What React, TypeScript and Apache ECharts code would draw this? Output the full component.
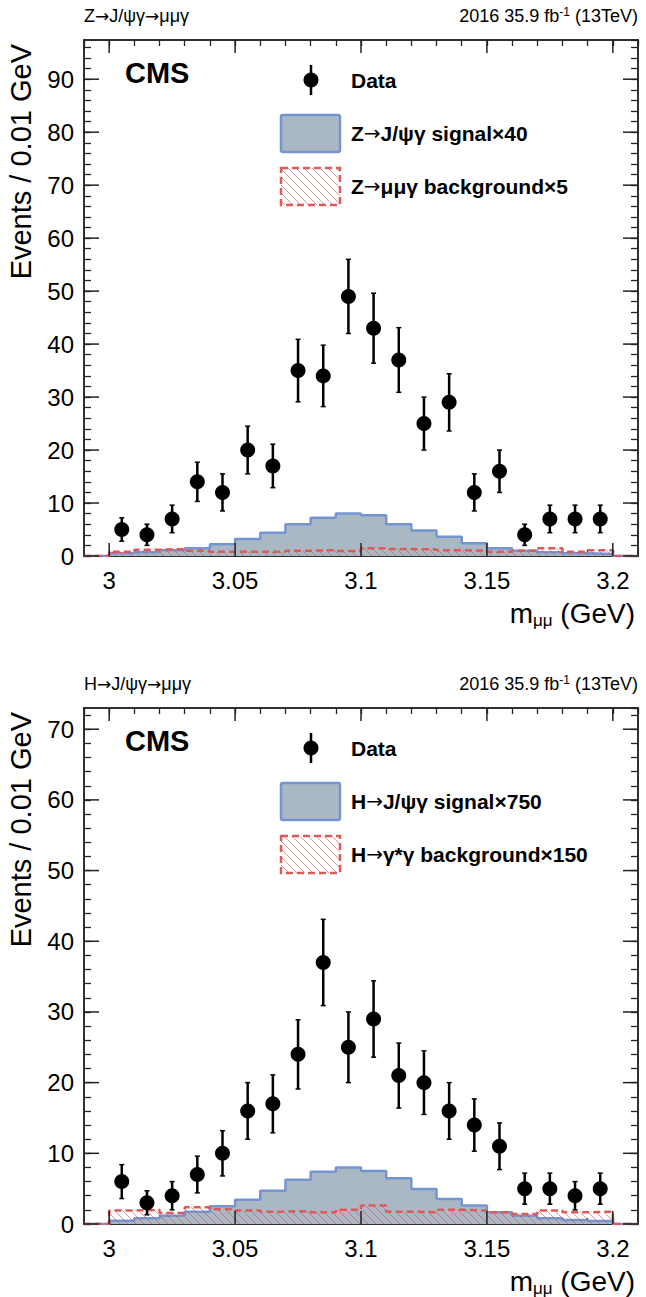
import React, { useEffect, useRef } from "react";
import * as echarts from "echarts";

// ---------- data ----------
const binEdges = [3.0, 3.01, 3.02, 3.03, 3.04, 3.05, 3.06, 3.07, 3.08, 3.09, 3.1, 3.11, 3.12, 3.13, 3.14, 3.15, 3.16, 3.17, 3.18, 3.19, 3.2];
const binCenters = [3.005, 3.015, 3.025, 3.035, 3.045, 3.055, 3.065, 3.075, 3.085, 3.095, 3.105, 3.115, 3.125, 3.135, 3.145, 3.155, 3.165, 3.175, 3.185, 3.195];
const xRange = [2.99, 3.21];
const xMajorTicks = [3.0, 3.05, 3.1, 3.15, 3.2];

// Z panel
const zData = [5, 4, 7, 14, 12, 20, 17, 35, 34, 49, 43, 37, 25, 29, 12, 16, 4, 7, 7, 7];
const zErr = [2.2, 2.0, 2.6, 3.7, 3.5, 4.5, 4.1, 5.9, 5.8, 7.0, 6.6, 6.1, 5.0, 5.4, 3.5, 4.0, 2.0, 2.6, 2.6, 2.6];
const zSignal = [0.5, 0.7, 1.1, 1.45, 2.2, 3.2, 4.4, 6.0, 7.2, 8.0, 7.7, 6.0, 4.8, 3.65, 2.4, 1.45, 1.0, 0.7, 0.5, 0.4];
const zBackground = [0.8, 1.2, 1.3, 1.0, 0.8, 0.8, 0.8, 1.0, 1.1, 0.95, 1.45, 1.3, 1.25, 1.1, 1.0, 0.8, 1.0, 1.45, 0.8, 1.1];
const zYMax = 97.4;
const zYMajorTicks = [0, 10, 20, 30, 40, 50, 60, 70, 80, 90];

// H panel
const hData = [6, 3, 4, 7, 10, 16, 17, 24, 37, 25, 29, 21, 20, 16, 14, 11, 5, 5, 4, 5];
const hErr = [2.4, 1.7, 2.0, 2.6, 3.2, 4.0, 4.1, 4.9, 6.1, 5.0, 5.4, 4.6, 4.5, 4.0, 3.7, 3.3, 2.2, 2.2, 2.0, 2.2];
const hSignal = [0.47, 0.8, 1.18, 1.75, 2.5, 3.44, 4.72, 6.27, 7.4, 8.0, 7.5, 6.46, 4.95, 3.54, 2.6, 1.65, 1.18, 0.8, 0.57, 0.42];
const hBackground = [1.9, 2.0, 1.55, 2.36, 2.1, 1.9, 1.75, 1.8, 1.65, 2.0, 2.6, 1.75, 1.65, 2.0, 1.9, 1.65, 1.4, 1.9, 1.65, 1.75];
const hYMax = 73;
const hYMajorTicks = [0, 10, 20, 30, 40, 50, 60, 70];

const AR = "{a|\u2192}";
const panels = [
  {
    title: "Z" + AR + "J/\u03c8\u03b3" + AR + "\u03bc\u03bc\u03b3",
    signalLabel: "Z" + AR + "J/\u03c8\u03b3 signal\u00d740",
    bkgLabel: "Z" + AR + "\u03bc\u03bc\u03b3 background\u00d75",
    data: zData, err: zErr, signal: zSignal, bkg: zBackground, yMax: zYMax, yMajor: zYMajorTicks,
  },
  {
    title: "H" + AR + "J/\u03c8\u03b3" + AR + "\u03bc\u03bc\u03b3",
    signalLabel: "H" + AR + "J/\u03c8\u03b3 signal\u00d7750",
    bkgLabel: "H" + AR + "\u03b3*\u03b3 background\u00d7150",
    data: hData, err: hErr, signal: hSignal, bkg: hBackground, yMax: hYMax, yMajor: hYMajorTicks,
  },
];

const FONT = "'Liberation Sans', Arial, Helvetica, sans-serif";
const ARROW_FONT = "'DejaVu Sans', sans-serif";
const FRAME = "#222";
const BLUE_LINE = "#7594d2";
const BLUE_FILL = "#aab8c3";
const RED = "#dc5a5a";

const GRID_LEFT = 84;
const GRID_WIDTH = 554;
const GRID_HEIGHT = 516;
const GRID_TOPS = [40, 708];

function stepData(values: number[]) {
  const pts: number[][] = [[xRange[0], 0]];
  for (let i = 0; i < values.length; i++) pts.push([binEdges[i], values[i]]);
  pts.push([binEdges[binEdges.length - 1], 0]);
  pts.push([xRange[1], 0]);
  return pts;
}

const hatchSvg =
  '<svg xmlns="http://www.w3.org/2000/svg" width="8" height="8">' +
  '<path d="M-1,-1 L9,9 M-1,7 L1,9 M7,-1 L9,1" stroke="rgba(205,80,85,0.6)" stroke-width="1"/></svg>';
const hatchUrl = "data:image/svg+xml;charset=utf-8," + encodeURIComponent(hatchSvg);
const hatchPattern: any = { image: hatchUrl, repeat: "repeat", imageWidth: 8, imageHeight: 8 };

export default function App() {
  const ref = useRef<HTMLDivElement>(null);
  useEffect(() => {
    document.body.style.margin = "0";
    const chart = echarts.init(ref.current!, null, { renderer: "svg" });

    const grids: any[] = [];
    const xAxes: any[] = [];
    const yAxes: any[] = [];
    const series: any[] = [];
    const graphics: any[] = [];

    panels.forEach((p, i) => {
      const top = GRID_TOPS[i];
      grids.push({
        left: GRID_LEFT, top, width: GRID_WIDTH, height: GRID_HEIGHT,
        show: true, borderColor: FRAME, borderWidth: 1.5, backgroundColor: "transparent",
      });
      const xBase = {
        gridIndex: i, type: "value", min: xRange[0], max: xRange[1], interval: 0.01,
        axisLine: { show: true, onZero: false, lineStyle: { color: FRAME, width: 1.5 } },
        axisTick: { show: true, inside: true, length: 6, lineStyle: { color: FRAME, width: 1.3 } },
        splitLine: { show: false },
      };
      xAxes.push({
        ...xBase, position: "bottom",
        axisLabel: {
          show: true, color: "#000", fontSize: 24, fontFamily: FONT, margin: 12,
          showMinLabel: false, showMaxLabel: false,
          formatter: (v: number) => {
            const r = Math.round(v * 100);
            if (r % 5 !== 0) return "";
            return String(r / 100);
          },
        },
      });
      xAxes.push({ ...xBase, position: "top", axisLabel: { show: false } });
      const yBase = {
        gridIndex: i, type: "value", min: 0, max: p.yMax, interval: 2,
        axisLine: { show: true, onZero: false, lineStyle: { color: FRAME, width: 1.5 } },
        axisTick: { show: true, inside: true, length: 7, lineStyle: { color: FRAME, width: 1.3 } },
        splitLine: { show: false },
      };
      yAxes.push({
        ...yBase, position: "left",
        axisLabel: {
          show: true, color: "#000", fontSize: 24, fontFamily: FONT, margin: 10,
          showMaxLabel: false,
          formatter: (v: number) => (Math.round(v) % 10 === 0 && Math.abs(v - Math.round(v)) < 1e-6 ? String(Math.round(v)) : ""),
        },
      });
      yAxes.push({ ...yBase, position: "right", axisLabel: { show: false } });

      const xi = 2 * i;
      const yi = 2 * i;

      series.push({
        type: "line", xAxisIndex: xi, yAxisIndex: yi, step: "end", symbol: "none", silent: true,
        data: stepData(p.signal),
        lineStyle: { color: BLUE_LINE, width: 2.5 },
        areaStyle: { color: BLUE_FILL, opacity: 1 },
        z: 2,
      });
      series.push({
        type: "line", xAxisIndex: xi, yAxisIndex: yi, step: "end", symbol: "none", silent: true,
        data: stepData(p.bkg),
        lineStyle: { opacity: 0, width: 0 },
        areaStyle: { color: hatchPattern, opacity: 1 },
        z: 3,
      });
      series.push({
        type: "line", xAxisIndex: xi, yAxisIndex: yi, step: "end", symbol: "none", silent: true,
        data: stepData(p.bkg),
        lineStyle: { color: RED, width: 2.5, type: [7, 4] },
        z: 4,
      });
      // error bars
      series.push({
        type: "custom", xAxisIndex: xi, yAxisIndex: yi, silent: true, z: 5,
        data: binCenters.map((x, k) => [x, p.data[k], p.err[k]]),
        renderItem: (_params: any, api: any) => {
          const x = api.value(0), y = api.value(1), e = api.value(2);
          const t = api.coord([x, y + e]);
          const b = api.coord([x, y - e]);
          const st = { stroke: "#000", lineWidth: 2.5 };
          return {
            type: "group",
            children: [
              { type: "line", shape: { x1: t[0], y1: t[1], x2: b[0], y2: b[1] }, style: st },
              { type: "line", shape: { x1: t[0] - 2.5, y1: t[1], x2: t[0] + 2.5, y2: t[1] }, style: { stroke: "#000", lineWidth: 1.5 } },
              { type: "line", shape: { x1: b[0] - 2.5, y1: b[1], x2: b[0] + 2.5, y2: b[1] }, style: { stroke: "#000", lineWidth: 1.5 } },
            ],
          };
        },
      });
      series.push({
        type: "scatter", xAxisIndex: xi, yAxisIndex: yi, silent: true, z: 6,
        symbol: "circle", symbolSize: 15,
        itemStyle: { color: "#000", opacity: 1 },
        data: binCenters.map((x, k) => [x, p.data[k]]),
      });
      // major x ticks (bottom and top)
      series.push({
        type: "custom", xAxisIndex: xi, yAxisIndex: yi, silent: true, z: 7,
        data: xMajorTicks.map((v) => [v, 0]),
        renderItem: (_params: any, api: any) => {
          const x = api.value(0);
          const b = api.coord([x, 0]);
          const t = api.coord([x, p.yMax]);
          const st = { stroke: FRAME, lineWidth: 1.5 };
          return {
            type: "group",
            children: [
              { type: "line", shape: { x1: b[0], y1: b[1], x2: b[0], y2: b[1] - 13 }, style: st },
              { type: "line", shape: { x1: t[0], y1: t[1], x2: t[0], y2: t[1] + 13 }, style: st },
            ],
          };
        },
      });
      // major y ticks (left and right)
      series.push({
        type: "custom", xAxisIndex: xi, yAxisIndex: yi, silent: true, z: 7,
        data: p.yMajor.map((v) => [xRange[0], v]),
        renderItem: (_params: any, api: any) => {
          const y = api.value(1);
          const l = api.coord([xRange[0], y]);
          const r = api.coord([xRange[1], y]);
          const st = { stroke: FRAME, lineWidth: 1.5 };
          return {
            type: "group",
            children: [
              { type: "line", shape: { x1: l[0], y1: l[1], x2: l[0] + 15, y2: l[1] }, style: st },
              { type: "line", shape: { x1: r[0], y1: r[1], x2: r[0] - 15, y2: r[1] }, style: st },
            ],
          };
        },
      });

      // ---------- texts & legend ----------
      const off = top - GRID_TOPS[0];
      const arrowRich = (size: number, bold: boolean) => ({
        a: { fontSize: size, fontFamily: ARROW_FONT, fontWeight: bold ? "bold" : "normal", fill: "#000" },
      });
      graphics.push({
        type: "text", x: 84, y: 16 + off,
        style: {
          text: p.title, fontSize: 18, fontFamily: FONT, fill: "#000", align: "left", verticalAlign: "middle",
          rich: arrowRich(17, false),
        },
      });
      graphics.push({
        type: "text", x: 638, y: 16 + off,
        style: {
          text: "2016 35.9 fb{sup|-1} (13TeV)", fontSize: 18, lineHeight: 20, fontFamily: FONT, fill: "#000",
          align: "right", verticalAlign: "middle",
          rich: { sup: { fontSize: 12, lineHeight: 10, verticalAlign: "top", fontFamily: FONT, fill: "#000" } },
        },
      });
      graphics.push({
        type: "text", x: 21, y: 44 + off, rotation: Math.PI / 2,
        style: { text: "Events / 0.01 GeV", fontSize: 29, fontFamily: FONT, fill: "#000", align: "right", verticalAlign: "middle" },
      });
      graphics.push({
        type: "text", x: 635, y: 613 + off,
        style: {
          text: "{m|m}{s|\u03bc\u03bc}{m| (GeV)}", fontFamily: FONT, fill: "#000", align: "right", verticalAlign: "middle",
          rich: {
            m: { fontSize: 28, lineHeight: 32, fontFamily: FONT, fill: "#000" },
            s: { fontSize: 17, lineHeight: 4, verticalAlign: "bottom", fontFamily: FONT, fill: "#000" },
          },
        },
      });
      graphics.push({
        type: "text", x: 125, y: 73 + off,
        style: { text: "CMS", fontSize: 29, fontWeight: "bold", fontFamily: FONT, fill: "#000", align: "left", verticalAlign: "middle" },
      });
      // legend: data
      graphics.push({ type: "line", shape: { x1: 311, y1: 65 + off, x2: 311, y2: 95 + off }, style: { stroke: "#000", lineWidth: 2.5 } });
      graphics.push({ type: "circle", shape: { cx: 311, cy: 80 + off, r: 7.5 }, style: { fill: "#000" } });
      graphics.push({
        type: "text", x: 351, y: 80 + off,
        style: { text: "Data", fontSize: 21, fontWeight: "bold", fontFamily: FONT, fill: "#000", align: "left", verticalAlign: "middle" },
      });
      // legend: signal
      graphics.push({
        type: "rect", shape: { x: 281, y: 115 + off, width: 59, height: 37, r: 2 },
        style: { fill: BLUE_FILL, stroke: BLUE_LINE, lineWidth: 2.5 },
      });
      graphics.push({
        type: "text", x: 351, y: 133 + off,
        style: {
          text: p.signalLabel, fontSize: 21, fontWeight: "bold", fontFamily: FONT, fill: "#000", align: "left", verticalAlign: "middle",
          rich: arrowRich(20, false),
        },
      });
      // legend: background
      graphics.push({
        type: "rect", shape: { x: 281, y: 168 + off, width: 59, height: 37 },
        style: { fill: hatchPattern, stroke: RED, lineWidth: 2.5, lineDash: [7, 4] },
      });
      graphics.push({
        type: "text", x: 351, y: 186 + off,
        style: {
          text: p.bkgLabel, fontSize: 21, fontWeight: "bold", fontFamily: FONT, fill: "#000", align: "left", verticalAlign: "middle",
          rich: arrowRich(20, false),
        },
      });
    });

    chart.setOption({
      animation: false,
      backgroundColor: "#fff",
      grid: grids,
      xAxis: xAxes,
      yAxis: yAxes,
      series,
      graphic: graphics,
    });
    return () => chart.dispose();
  }, []);

  return <div ref={ref} style={{ position: "absolute", left: 0, top: 0, width: 646, height: 1297 }} />;
}
